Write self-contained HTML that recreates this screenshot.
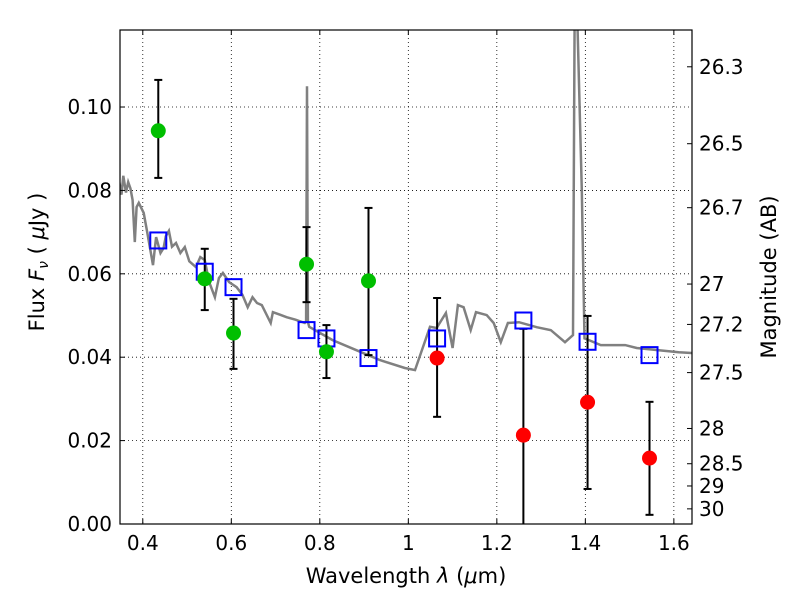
<!DOCTYPE html>
<html><head><meta charset="utf-8"><style>
body{margin:0;background:#fff}
svg text{font-family:"DejaVu Sans","Liberation Sans",sans-serif;fill:#000}
</style></head><body>
<svg id="chart" width="800" height="600" xmlns="http://www.w3.org/2000/svg">
<g id="grid"></g>
<g id="spec"></g>
<g id="marks"></g>
<g id="axes"></g>
<text x="406" y="583" font-size="21" text-anchor="middle">Wavelength  <tspan font-style="italic">λ</tspan> (<tspan font-style="italic">μ</tspan>m)</text>
<text transform="translate(44,262) rotate(-90)" font-size="21" text-anchor="middle">Flux  <tspan font-style="italic">F<tspan font-size="14" dy="4">ν</tspan></tspan><tspan dy="-4">  (  </tspan><tspan font-style="italic">μ</tspan>Jy )</text>
<text transform="translate(776,277) rotate(-90)" font-size="21" text-anchor="middle">Magnitude (AB)</text>
</svg>
<script>
const xTicks=[0.4,0.6,0.8,1,1.2,1.4,1.6];
const xTickLabels=["0.4","0.6","0.8","1","1.2","1.4","1.6"];
const yTicks=[0,0.02,0.04,0.06,0.08,0.10];
const yTickLabels=["0.00","0.02","0.04","0.06","0.08","0.10"];
const magTicks=[26.3,26.5,26.7,27,27.2,27.5,28,28.5,29,30];
const obsWave=[0.435,0.54,0.605,0.77,0.815,0.91,1.065,1.26,1.405,1.545];
const obsFlux=[0.0943,0.0588,0.0458,0.0623,0.0413,0.0583,0.0398,0.0213,0.0292,0.0158];
const obsHi=[0.1065,0.066,0.054,0.0712,0.0477,0.0758,0.0542,0.0468,0.0499,0.0293];
const obsLo=[0.083,0.0513,0.0372,0.0532,0.035,0.0405,0.0257,-0.01,0.0084,0.0022];
const obsColor=["#00bf00","#00bf00","#00bf00","#00bf00","#00bf00","#00bf00","#ff0000","#ff0000","#ff0000","#ff0000"];
const modelFlux=[0.068,0.0605,0.0568,0.0465,0.0445,0.0398,0.0445,0.0488,0.0437,0.0405];
const specWave=[0.346,0.352,0.356,0.362,0.367,0.372,0.377,0.382,0.386,0.391,0.402,0.41,0.423,0.43,0.44,0.447,0.452,0.459,0.466,0.475,0.485,0.495,0.505,0.52,0.53,0.54,0.55,0.563,0.572,0.581,0.595,0.612,0.625,0.637,0.648,0.658,0.669,0.689,0.694,0.71,0.725,0.745,0.766,0.769,0.771,0.773,0.776,0.829,0.88,0.936,0.992,1.015,1.049,1.064,1.085,1.10,1.112,1.125,1.141,1.153,1.177,1.193,1.209,1.225,1.25,1.29,1.322,1.354,1.372,1.376,1.381,1.392,1.398,1.408,1.435,1.49,1.516,1.611,1.64];
const specFlux=[0.0825,0.079,0.0835,0.0795,0.082,0.0805,0.0777,0.0676,0.076,0.077,0.0746,0.07,0.0621,0.0688,0.065,0.0662,0.069,0.0703,0.0665,0.0674,0.065,0.0664,0.063,0.0616,0.064,0.0633,0.058,0.0544,0.059,0.0602,0.058,0.0568,0.055,0.052,0.0544,0.053,0.0525,0.0482,0.0508,0.0502,0.0496,0.049,0.0482,0.0485,0.105,0.0485,0.0473,0.0441,0.0418,0.0393,0.0374,0.0369,0.0473,0.047,0.0506,0.0422,0.0525,0.052,0.0465,0.0508,0.0501,0.0482,0.0436,0.0482,0.0484,0.0472,0.0465,0.0436,0.0453,0.125,0.125,0.08,0.0445,0.0441,0.0429,0.0429,0.0422,0.0412,0.041];
const X0=120,X1=692,Y0=30,Y1=524,XMIN=0.3485,XMAX=1.641,YMAX=0.11847;
const sx=v=>X0+(v-XMIN)/(XMAX-XMIN)*(X1-X0);
const sy=v=>Y1-v/YMAX*(Y1-Y0);
const NS="http://www.w3.org/2000/svg";
function mk(parent,tag,attrs){const e=document.createElementNS(NS,tag);for(const k in attrs)e.setAttribute(k,attrs[k]);parent.appendChild(e);return e;}
const grid=document.getElementById('grid'),axes=document.getElementById('axes'),spec=document.getElementById('spec'),marks=document.getElementById('marks');
mk(grid,'defs',{}).innerHTML='<clipPath id="clip"><rect x="120" y="30" width="572" height="494"/></clipPath>';
xTicks.forEach((t,i)=>{const x=sx(t);
 const g=mk(grid,'line',{x1:x,x2:x,y1:Y0,y2:Y1,stroke:'#000','stroke-width':0.8,'stroke-dasharray':'1,3'});
 
 mk(axes,'line',{x1:x,x2:x,y1:Y1,y2:Y1-5,stroke:'#000'});mk(axes,'line',{x1:x,x2:x,y1:Y0,y2:Y0+5,stroke:'#000'});
 const tx=mk(axes,'text',{x:x,y:Y1+26,'font-size':20,'text-anchor':'middle'});tx.textContent=xTickLabels[i];
 });
yTicks.forEach((t,i)=>{const y=sy(t);
 if(t>0){const g=mk(grid,'line',{x1:X0,x2:X1,y1:y,y2:y,stroke:'#000','stroke-width':0.8,'stroke-dasharray':'1,3'});
 }
 mk(axes,'line',{x1:X0,x2:X0+5,y1:y,y2:y,stroke:'#000'});
 const tx=mk(axes,'text',{x:X0-8,y:y+7,'font-size':20,'text-anchor':'end'});tx.textContent=yTickLabels[i];
 });
magTicks.forEach(m=>{const f=Math.pow(10,(23.9-m)/2.5);const y=sy(f);
 mk(axes,'line',{x1:X1-5,x2:X1,y1:y,y2:y,stroke:'#000'});
 const tx=mk(axes,'text',{x:X1+7,y:y+7,'font-size':20});tx.textContent=String(m);
 });
let d='';specWave.forEach((w,i)=>{d+=(i?'L':'M')+sx(w).toFixed(1)+','+sy(specFlux[i]).toFixed(1);});
const sp=mk(spec,'path',{d:d,fill:'none',stroke:'#808080','stroke-width':2.5,'clip-path':'url(#clip)'});

const mg=mk(marks,'g',{'clip-path':'url(#clip)'});
obsWave.forEach((w,i)=>{const x=sx(w);
 const e=mk(mg,'g',{});
 
 mk(e,'line',{x1:x,x2:x,y1:sy(obsHi[i]),y2:sy(obsLo[i]),stroke:'#000','stroke-width':2});
 mk(e,'line',{x1:x-4,x2:x+4,y1:sy(obsHi[i]),y2:sy(obsHi[i]),stroke:'#000','stroke-width':2});
 mk(e,'line',{x1:x-4,x2:x+4,y1:sy(obsLo[i]),y2:sy(obsLo[i]),stroke:'#000','stroke-width':2});
});
obsWave.forEach((w,i)=>{const x=sx(w);
 const s=mk(mg,'rect',{x:x-8,y:sy(modelFlux[i])-8,width:16,height:16,fill:'none',stroke:'#0000ff','stroke-width':2});
 
 const c=mk(mg,'circle',{cx:x,cy:sy(obsFlux[i]),r:7.5,fill:obsColor[i]});
 
});
const fr=mk(axes,'rect',{x:X0,y:Y0,width:X1-X0,height:Y1-Y0,fill:'none',stroke:'#000','stroke-width':1.2});

</script>
</body></html>
